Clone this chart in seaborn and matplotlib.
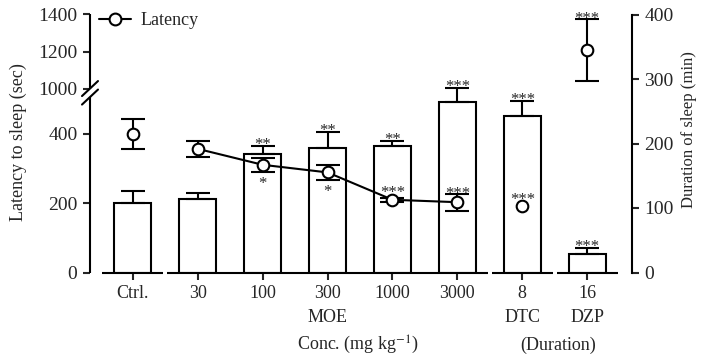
import numpy as np
import pandas as pd
import matplotlib
matplotlib.use("Agg")
import matplotlib.pyplot as plt
import matplotlib.transforms as mtransforms
from matplotlib.lines import Line2D
import seaborn as sns

# ---------------- data ----------------
categories = ['Ctrl.', '30', '100', '300', '1000', '3000', '8', '16']
duration = [108, 114, 184, 193, 196, 264, 243, 28]          # min (bars, right axis)
duration_err = [18, 9, 12, 25, 8, 22, 23, 10]
latency = [400, 357, 311, 289, 210, 203, 192, 1210]         # sec (points, left axis)
latency_err = [43, 23, 20, 22, 5, 24, 0, 167]
moe_categories = ['30', '100', '300', '1000', '3000']       # connected by the line
bar_stars = ['', '', '**', '**', '**', '***', '***', '***']
lat_stars = ['', '', '*', '*', '***', '***', '***', '***']
lat_star_side = ['', '', 'below', 'below', 'above', 'above', 'above', 'above']
groups = [['Ctrl.'], moe_categories, ['8'], ['16']]
group_labels = ['', 'MOE', 'DTC', 'DZP']
left_ticks = [0, 200, 400, 1000, 1200, 1400]
right_ticks = [0, 100, 200, 300, 400]

# ---------------- style ----------------
sns.set_style("ticks")
plt.rcParams['font.family'] = ['Liberation Serif', 'DejaVu Serif']
plt.rcParams['mathtext.fontset'] = 'stix'

fig = plt.figure(figsize=(7.03, 3.58), dpi=100)
ax_bar = fig.add_axes([90 / 703, 1 - 272.5 / 358, 542 / 703, 258 / 358])
ax_lat = ax_bar.twinx()

LW = 1.5
x_all = np.arange(len(categories))

# bars
df = pd.DataFrame({'cat': categories, 'duration': duration})
sns.barplot(data=df, x='cat', y='duration', order=categories, ax=ax_bar,
            color='white', edgecolor='black', linewidth=LW, width=0.57,
            errorbar=None, saturation=1)
ax_bar.errorbar(x_all, duration, yerr=[np.zeros(len(duration)), duration_err],
                fmt='none', ecolor='black', elinewidth=LW, capsize=8.5,
                capthick=LW, zorder=3)
ax_bar.set_xlim(-0.66, 7.69)
ax_bar.set_ylim(0, 400)
ax_bar.set_xlabel('')
ax_bar.set_ylabel('Duration of sleep (min)', fontsize=12, rotation=90)
ax_bar.yaxis.tick_right()
ax_bar.yaxis.set_label_position('right')
ax_bar.yaxis.set_label_coords(1.091, 0.555)
ax_bar.set_yticks(right_ticks)
ax_bar.set_xticks(x_all)
ax_bar.set_xticklabels(categories)
ax_bar.tick_params(axis='y', labelsize=14, length=5, width=LW, direction='out', pad=4)
ax_bar.tick_params(axis='x', labelsize=13, length=5, width=LW, direction='out', pad=4)
for s in ['top', 'left', 'bottom']:
    ax_bar.spines[s].set_visible(False)
ax_bar.spines['right'].set_linewidth(LW)
ax_bar.spines['right'].set_color('black')

# broken bottom spine segments
btrans = mtransforms.blended_transform_factory(ax_bar.transData, ax_bar.transAxes)
for g in groups:
    i0 = categories.index(g[0]); i1 = categories.index(g[-1])
    ax_bar.plot([i0 - 0.47, i1 + 0.47], [0, 0], color='black', lw=LW,
                transform=btrans, clip_on=False, solid_capstyle='butt')

# ---------------- latency (broken left axis) ----------------
LOW_TOP, UP_BASE, UP_POS, K = 500.0, 1000.0, 531.0, 0.535

def fwd(y):
    y = np.asarray(y, dtype=float)
    return np.where(y <= LOW_TOP, y, np.maximum(LOW_TOP, UP_POS + (y - UP_BASE) * K))

def inv(u):
    u = np.asarray(u, dtype=float)
    return np.where(u <= LOW_TOP, u, UP_BASE + (u - UP_POS) / K)

ax_lat.set_yscale('function', functions=(fwd, inv))
ax_lat.set_ylim(0, 1400)
ax_lat.yaxis.tick_left()
ax_lat.yaxis.set_label_position('left')
ax_lat.set_yticks(left_ticks)
ax_lat.set_yticklabels([str(t) for t in left_ticks])
ax_lat.yaxis.set_minor_locator(matplotlib.ticker.NullLocator())
ax_lat.tick_params(axis='y', labelsize=14, length=5, width=LW, direction='out', pad=4)
ax_lat.set_ylabel('Latency to sleep (sec)', fontsize=13)
ax_lat.yaxis.set_label_coords(-0.116, 0.504)
for s in ax_lat.spines.values():
    s.set_visible(False)

lat = np.array(latency, float); lerr = np.array(latency_err, float)
mask = lerr > 0
ax_lat.errorbar(x_all[mask], lat[mask], yerr=lerr[mask], fmt='none', ecolor='black',
                elinewidth=LW, capsize=8.5, capthick=LW, zorder=2)
moe_idx = [categories.index(c) for c in moe_categories]
sns.lineplot(x=moe_idx, y=[latency[i] for i in moe_idx], ax=ax_lat, color='black',
             lw=LW, zorder=3)
sns.scatterplot(x=x_all, y=latency, ax=ax_lat, marker='o', s=70, facecolor='white',
                edgecolor='black', linewidth=LW, zorder=4)
ax_lat.set_xlim(-0.66, 7.69)

# left spine with break
ax_lat.plot([0, 0], [0, 0.68], color='black', lw=LW, transform=ax_lat.transAxes,
            clip_on=False, solid_capstyle='butt')
ax_lat.plot([0, 0], [0.713, 1.0], color='black', lw=LW, transform=ax_lat.transAxes,
            clip_on=False, solid_capstyle='butt')
dx, dy = 8 / 542, 7.5 / 258
for yc in (0.68, 0.713):
    ax_lat.plot([-dx, dx], [yc - dy, yc + dy], color='black', lw=LW,
                transform=ax_lat.transAxes, clip_on=False)

# legend
handle = Line2D([0], [0], color='black', lw=LW, marker='o', ms=8.5,
                mfc='white', mec='black', mew=LW)
ax_lat.legend([handle], ['Latency'], loc='center left', bbox_to_anchor=(0.016, 0.977),
              frameon=False, fontsize=13, handlelength=1.8, handletextpad=0.5,
              borderpad=0, borderaxespad=0)

# ---------------- significance stars ----------------
STAR_FS = 12
em_px = STAR_FS * 100 / 72
center_off = 0.55 * em_px
r_px = 6.5

for i, s in enumerate(bar_stars):
    if not s:
        continue
    y0 = ax_bar.transData.transform((i, duration[i]))[1]
    y1 = ax_bar.transData.transform((i, duration[i] + duration_err[i]))[1]
    off = (y1 - y0) + 6 - center_off
    ax_bar.annotate(s, xy=(i, duration[i]), xytext=(0, off), textcoords='offset pixels',
                    ha='center', va='baseline', fontsize=STAR_FS, zorder=5)

for i, s in enumerate(lat_stars):
    if not s:
        continue
    y0 = ax_lat.transData.transform((i, latency[i]))[1]
    if lat_star_side[i] == 'above':
        y1 = ax_lat.transData.transform((i, latency[i] + latency_err[i]))[1]
        d = max(y1 - y0, r_px)
        off = d + 5 - center_off
    else:
        y1 = ax_lat.transData.transform((i, latency[i] - latency_err[i]))[1]
        d = max(y0 - y1, r_px)
        off = -(d + 7) - center_off
    ax_lat.annotate(s, xy=(i, latency[i]), xytext=(0, off), textcoords='offset pixels',
                    ha='center', va='baseline', fontsize=STAR_FS, zorder=5)

# ---------------- group / axis titles below ----------------
for g, lab in zip(groups, group_labels):
    if not lab:
        continue
    xc = np.mean([categories.index(c) for c in g])
    ax_bar.text(xc, -0.176, lab, transform=btrans, ha='center', va='center', fontsize=13)
ax_bar.text(3.47, -0.281, r'Conc. (mg kg$^{-1}$)', transform=btrans, ha='center',
            va='center', fontsize=13)
ax_bar.text(6.55, -0.281, '(Duration)', transform=btrans, ha='center', va='center',
            fontsize=13)

fig.savefig('out.png', dpi=100)
